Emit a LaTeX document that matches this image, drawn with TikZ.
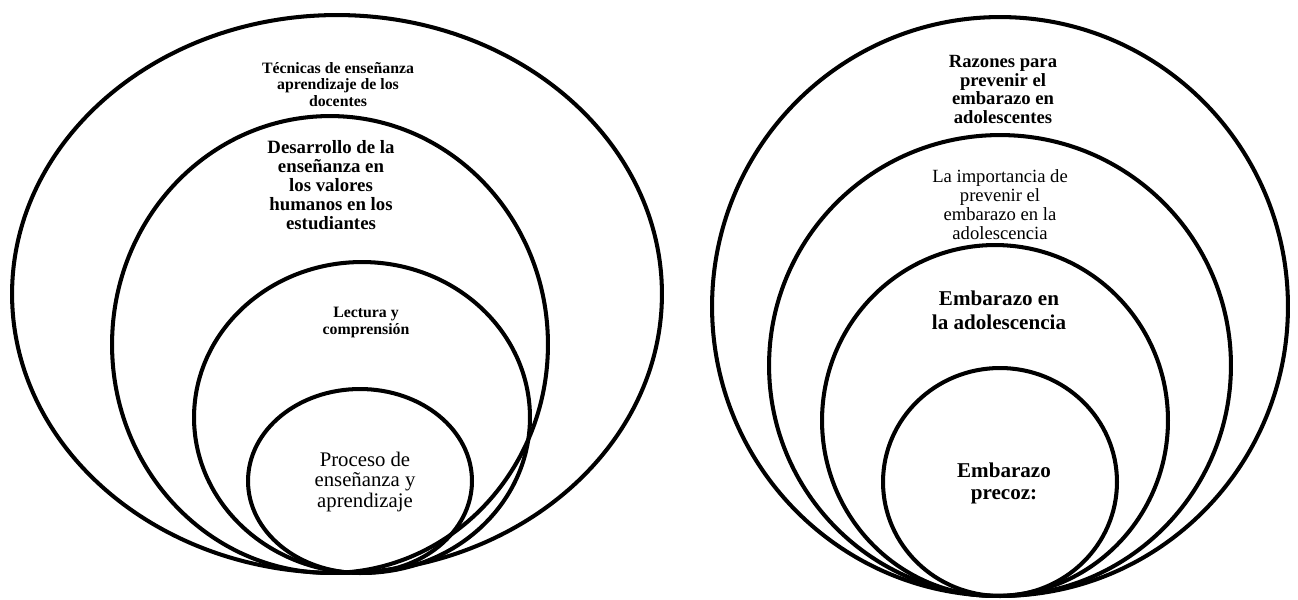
\documentclass[tikz,border=0pt]{standalone}
\usepackage{fontspec}
\setmainfont{Liberation Serif}
\begin{document}
\begin{tikzpicture}[x=0.02cm,y=-0.02cm,
  ring/.style={line width=2.3pt},
  lbl/.style={align=center,inner sep=0pt,text=black}]
\useasboundingbox (0,0) rectangle (1298,599);
% left diagram
\draw[ring] (337,294) ellipse [x radius=6.5cm, y radius=5.58cm];
\draw[ring] (330,344.5) ellipse [x radius=4.36cm, y radius=4.57cm];
\draw[ring] (362,417.5) ellipse [x radius=3.36cm, y radius=3.11cm];
\draw[ring] (360,481) ellipse [x radius=2.24cm, y radius=1.84cm];
\node[lbl,font=\fontsize{9}{9.4}\selectfont\bfseries] (tec) at (338,84.5)
  {Técnicas de enseñanza\\aprendizaje de los\\docentes};
\node[lbl,font=\fontsize{10.7}{10.8}\selectfont\bfseries] (des) at (331,185)
  {Desarrollo de la\\enseñanza en\\los valores\\humanos en los\\estudiantes};
\node[lbl,font=\fontsize{9}{9.6}\selectfont\bfseries] (lec) at (366,322.5)
  {Lectura y\\comprensión};
\node[lbl,font=\fontsize{11.8}{11.9}\selectfont] (pro) at (365,482)
  {Proceso de\\enseñanza y\\aprendizaje};
% right diagram
\draw[ring] (1000,306.5) ellipse [x radius=5.76cm, y radius=5.79cm];
\draw[ring] (1000,365.5) ellipse [x radius=4.62cm, y radius=4.61cm];
\draw[ring] (995,420.5) ellipse [x radius=3.46cm, y radius=3.51cm];
\draw[ring] (1000,482) ellipse [x radius=2.34cm, y radius=2.28cm];
\node[lbl,font=\fontsize{10.6}{10.8}\selectfont\bfseries] (raz) at (1003,89.5)
  {Razones para\\prevenir el\\embarazo en\\adolescentes};
\node[lbl,font=\fontsize{10.6}{10.8}\selectfont] (imp) at (1000,204.5)
  {La importancia de\\prevenir el\\embarazo en la\\adolescencia};
\node[lbl,font=\fontsize{12}{13.6}\selectfont\bfseries] (ead) at (999,310)
  {Embarazo en\\la adolescencia};
\node[lbl,font=\fontsize{12}{12.5}\selectfont\bfseries] (epr) at (1004,483)
  {Embarazo\\precoz:};
\end{tikzpicture}
\end{document}
